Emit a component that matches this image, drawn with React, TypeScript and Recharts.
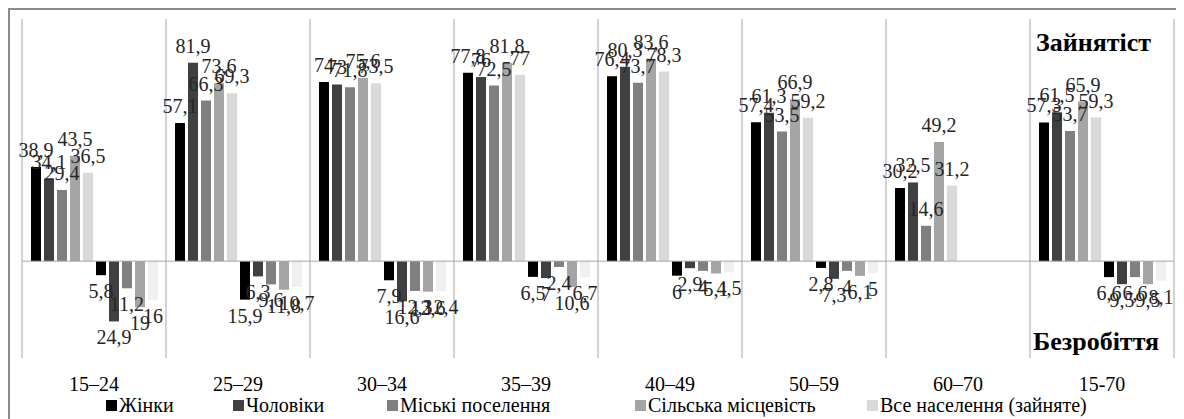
import { BarChart, Bar, XAxis, YAxis, ReferenceLine, LabelList, Legend } from 'recharts';

// age groups
const categories = ['15–24', '25–29', '30–34', '35–39', '40–49', '50–59', '60–70', '15-70'];
const seriesNames = ['Жінки', 'Чоловіки', 'Міські поселення', 'Сільська місцевість', 'Все населення (зайняте)'];

// employment rate, %
const womenEmp = [38.9, 57.1, 74, 77.8, 76.4, 57.4, 30.2, 57.3];
const menEmp = [34.1, 81.9, 73, 76, 80.3, 61.3, 32.5, 61.5];
const urbanEmp = [29.4, 66.3, 71.8, 72.5, 73.7, 53.5, 14.6, 53.7];
const ruralEmp = [43.5, 73.6, 75.6, 81.8, 83.6, 66.9, 49.2, 65.9];
const totalEmp = [36.5, 69.3, 73.5, 77, 78.3, 59.2, 31.2, 59.3];

// unemployment rate, % (drawn downwards)
const womenUnemp = [5.8, 15.9, 7.9, 6.5, 6, 2.8, null, 6.6];
const menUnemp = [24.9, 6.3, 16.6, 7, 2.9, 7.3, null, 9.5];
const urbanUnemp = [11.2, 9.6, 12.3, 2.4, 4, 4, null, 6.6];
const ruralUnemp = [19, 11.8, 12.6, 10.6, 5.1, 6.1, null, 9.5];
const totalUnemp = [16, 10.7, 12.4, 6.7, 4.5, 5, null, 8.1];

const EMP_COLORS = ['#000000', '#404040', '#7f7f7f', '#a5a5a5', '#d9d9d9'];
const UNEMP_COLORS = ['#000000', '#404040', '#7f7f7f', '#a5a5a5', '#f0f0f0'];
const LEGEND_WIDTHS = [127, 154, 248, 232, 300];
const FONT = '"Liberation Serif", "Times New Roman", serif';

const empSeries = [womenEmp, menEmp, urbanEmp, ruralEmp, totalEmp];
const unempSeries = [womenUnemp, menUnemp, urbanUnemp, ruralUnemp, totalUnemp];

const data = categories.map((cat, i) => {
  const row: Record<string, any> = { cat };
  empSeries.forEach((s, k) => { row[`e${k}`] = s[i]; });
  unempSeries.forEach((s, k) => { row[`u${k}`] = s[i] == null ? null : -(s[i] as number); });
  return row;
});

const fmt = (v: number) => String(Math.abs(v)).replace('.', ',');

const renderLabel = (props: any) => {
  const { x, y, width, height, value } = props;
  if (value == null || Number.isNaN(Number(value))) return null;
  const v = Number(value);
  const top = Math.min(y, y + height);
  const bottom = Math.max(y, y + height);
  const cx = x + width / 2;
  return (
    <text
      x={cx}
      y={v < 0 ? bottom + 7 : top - 10}
      dy={v < 0 ? '0.8em' : 0}
      textAnchor="middle"
      fontSize={20}
      fill="#262626"
      style={{ fontFamily: FONT }}
    >
      {fmt(v)}
    </text>
  );
};

// legend in the original series order, only the employment series
const renderLegend = () => (
  <div style={{ display: 'flex', alignItems: 'center', height: 20, paddingLeft: 84, fontSize: 20, fontFamily: FONT, color: '#000' }}>
    {seriesNames.map((name, i) => (
      <div key={name} style={{ display: 'flex', alignItems: 'center', width: LEGEND_WIDTHS[i], whiteSpace: 'nowrap', lineHeight: '20px' }}>
        <span style={{ display: 'inline-block', width: 11, height: 11, background: EMP_COLORS[i], marginRight: 2 }} />
        {name}
      </div>
    ))}
  </div>
);

export default function App() {
  return (
    <div
      style={{
        position: 'relative',
        width: 1174,
        height: 416,
        border: '2px solid #8c8c8c',
        boxSizing: 'border-box',
        fontFamily: FONT,
      }}
    >
      <BarChart
        width={1170}
        height={410}
        data={data}
        margin={{ top: 9, right: 6, bottom: 5, left: 12 }}
        barSize={10}
        barGap={3}
        style={{ fontFamily: FONT }}
      >
        <XAxis
          dataKey="cat"
          axisLine={false}
          tickLine={false}
          tickSize={0}
          tickMargin={19}
          height={37}
          interval={0}
          tick={{ fontSize: 20, fill: '#000', style: { fontFamily: FONT } }}
        />
        <YAxis hide domain={[-40, 100]} />
        {categories.map((c) => (
          <ReferenceLine key={c} x={c} position="start" stroke="#a6a6a6" strokeWidth={1} />
        ))}
        <ReferenceLine x={categories[categories.length - 1]} position="end" stroke="#a6a6a6" strokeWidth={1} />
        <ReferenceLine y={0} stroke="#a6a6a6" strokeWidth={1} />
        {seriesNames.map((name, k) => (
          <Bar key={`e${k}`} dataKey={`e${k}`} name={name} fill={EMP_COLORS[k]} isAnimationActive={false}>
            <LabelList dataKey={`e${k}`} content={renderLabel} />
          </Bar>
        ))}
        {seriesNames.map((name, k) => (
          <Bar
            key={`u${k}`}
            dataKey={`u${k}`}
            name={`${name} `}
            fill={UNEMP_COLORS[k]}
            legendType="none"
            isAnimationActive={false}
          >
            <LabelList dataKey={`u${k}`} content={renderLabel} />
          </Bar>
        ))}
        <Legend verticalAlign="bottom" content={renderLegend} />
      </BarChart>
      <div style={{ position: 'absolute', left: 1026, top: 20, fontSize: 26, fontWeight: 'bold', lineHeight: 1 }}>
        Зайнятіст
      </div>
      <div style={{ position: 'absolute', left: 1023, top: 319, fontSize: 26, fontWeight: 'bold', lineHeight: 1 }}>
        Безробіття
      </div>
    </div>
  );
}
